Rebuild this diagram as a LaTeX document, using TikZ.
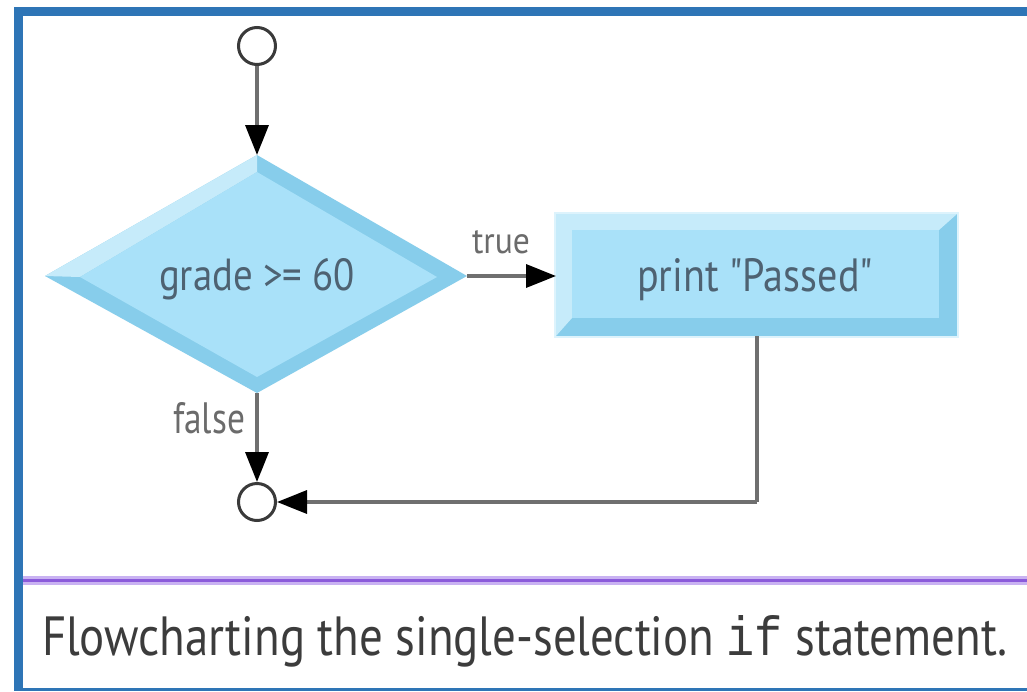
\documentclass[tikz,border=0pt]{standalone}
\usepackage{fontspec}
\usepackage{graphicx}
\setmainfont{PT Sans}
\newfontfamily\codefont{Liberation Mono}
\usetikzlibrary{arrows.meta}

\definecolor{framebl}{HTML}{2E75B6}
\definecolor{rulelight}{HTML}{C9B2F2}
\definecolor{ruledark}{HTML}{8B5BDB}
\definecolor{face}{HTML}{A9E1F9}
\definecolor{bevlight}{HTML}{C6EBFA}
\definecolor{bevdark}{HTML}{87CDEB}
\definecolor{rim}{HTML}{DDF3FC}
\definecolor{wire}{HTML}{6F6F6F}
\definecolor{ring}{HTML}{3A3A3A}
\definecolor{nodetext}{HTML}{4E6272}
\definecolor{labeltext}{HTML}{6B6B6B}
\definecolor{captext}{HTML}{3C3C3C}

% stretch a text to a given width and height (in pt)
\newcommand\fittext[3]{\resizebox{#1pt}{#2pt}{#3}}

\tikzset{
  txt/.style={anchor=base west, inner sep=0pt, outer sep=0pt},
  flow/.style={draw=wire, line width=3.4pt,
    -{Triangle[length=30pt,width=23pt,color=black]}},
  plainflow/.style={draw=wire, line width=3.4pt},
  terminal/.style={circle, draw=ring, line width=3pt, fill=white,
    minimum size=37pt, inner sep=0pt},
}

\begin{document}
\begin{tikzpicture}[x=1pt,y=-1pt]
\useasboundingbox (0,0) rectangle (1027,691);
\fill[white] (0,0) rectangle (1027,691);

% frame
\fill[framebl] (14,7) rectangle (1027,16);
\fill[framebl] (14,7) rectangle (23,691);
\fill[framebl] (14,688) rectangle (1027,691);

% caption rule
\fill[rulelight] (23,576) rectangle (1027,585);
\fill[ruledark] (23,579) rectangle (1027,582);

% decision diamond: outer and inner vertices
\coordinate (dl) at (45,276);
\coordinate (dt) at (257,155);
\coordinate (dr) at (467,276);
\coordinate (db) at (257,393);
\coordinate (il) at (80,277);
\coordinate (it) at (257,172);
\coordinate (ir) at (437,277);
\coordinate (ib) at (257,377);
\fill[bevdark] (dl) -- (dt) -- (dr) -- (db) -- cycle;
\fill[bevlight] (dl) -- (dt) -- (it) -- (il) -- cycle;
\fill[face] (il) -- (it) -- (ir) -- (ib) -- cycle;

% action box
\coordinate (bnw) at (556,214);
\coordinate (bse) at (957,336);
\coordinate (inw) at (572,230);
\coordinate (ise) at (939,318);
\fill[rim] (554,212) rectangle (959,338);
\fill[bevdark] (bnw) rectangle (bse);
\fill[bevlight] (556,336) -- (bnw) -- (957,214) -- (939,230) -- (inw) -- (572,318) -- cycle;
\fill[face] (inw) rectangle (ise);
\coordinate (bl) at (556,276);
\coordinate (bb) at (757,336);
\coordinate (bend) at (757,502);

% terminals
\node[terminal] (start) at (257,46) {};
\node[terminal] (stop) at (257,502) {};

% texts
\node[txt, text=nodetext] (cond) at (159,290) {\fittext{196}{32}{grade >= 60}};
\node[txt, text=nodetext] (act) at (637,291)
  {\fittext{236}{33}{print \textquotedbl Passed\textquotedbl}};
\node[txt, text=labeltext] (tlab) at (472,253) {\fittext{58}{23}{true}};
\node[txt, text=labeltext] (flab) at (173,433) {\fittext{72}{31}{false}};
\node[txt, text=captext] (cap) at (42,655)
  {\fittext{966}{40}{Flowcharting the single-selection {\codefont if} statement.}};

% connectors
\draw[flow] (start.south) -- (dt);
\draw[flow] (dr) -- (bl);
\draw[flow] (db) -- (stop.north);
\draw[plainflow] (bb) -- (bend);
\draw[flow] (bend) -- (stop.east);
\end{tikzpicture}
\end{document}
